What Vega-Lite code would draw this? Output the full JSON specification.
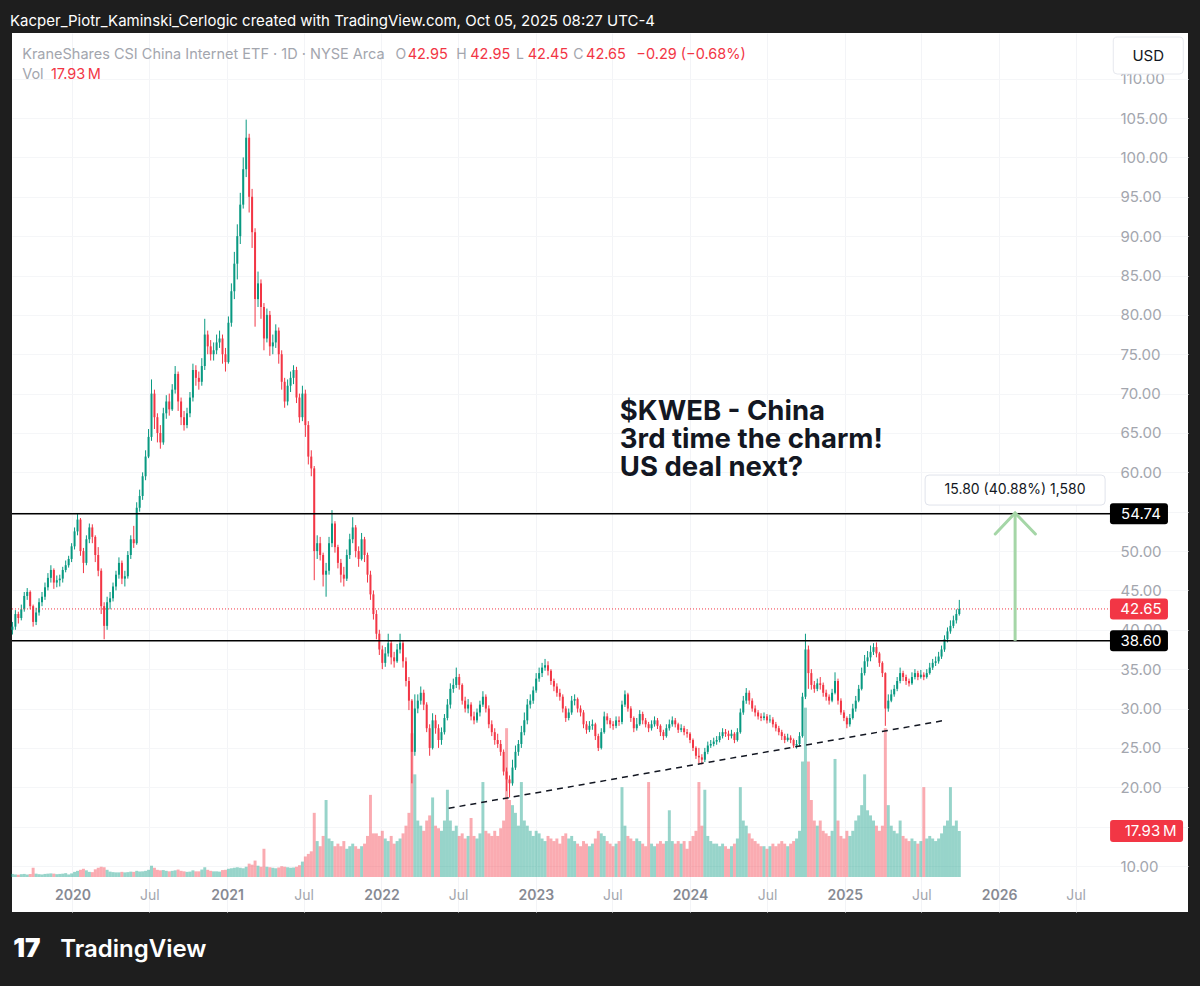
{
"$schema": "https://vega.github.io/schema/vega-lite/v6.json",
"width": 1176,
"height": 879,
"autosize": {"type": "none"},
"padding": {"left": 12, "top": 33, "right": 12, "bottom": 74},
"background": "#1e1e1e",
"title": {"text": "Kacper_Piotr_Kaminski_Cerlogic created with TradingView.com, Oct 05, 2025 08:27 UTC-4", "anchor": "start", "frame": "group", "color": "#ffffff", "fontSize": 15, "fontWeight": 400, "font": "Inter", "offset": 8, "dx": -2, "dy": 16, "baseline": "alphabetic"},
"config": {
  "font": "Inter",
  "view": {"fill": "#ffffff", "stroke": null},
  "axis": {"domain": false, "ticks": false, "tickSize": 0, "labelFont": "Inter"}
},
"datasets": {
"kweb": [
{"d":"2019-08-12","o":40.0,"h":41.0,"l":39.4,"c":40.4,"v":1.2},
{"d":"2019-08-19","o":40.4,"h":42.5,"l":40.0,"c":42.0,"v":1.0},
{"d":"2019-08-26","o":42.0,"h":42.3,"l":40.8,"c":41.5,"v":0.9},
{"d":"2019-09-02","o":41.5,"h":43.2,"l":41.2,"c":42.6,"v":1.1},
{"d":"2019-09-09","o":42.6,"h":44.8,"l":42.3,"c":44.3,"v":1.2},
{"d":"2019-09-16","o":44.3,"h":45.3,"l":43.8,"c":44.8,"v":1.0},
{"d":"2019-09-23","o":44.8,"h":45.0,"l":42.6,"c":43.0,"v":1.2},
{"d":"2019-09-30","o":43.0,"h":43.2,"l":40.4,"c":41.0,"v":3.6},
{"d":"2019-10-07","o":41.0,"h":42.8,"l":40.6,"c":42.2,"v":1.3},
{"d":"2019-10-14","o":42.2,"h":44.0,"l":41.8,"c":43.5,"v":1.1},
{"d":"2019-10-21","o":43.5,"h":44.8,"l":43.0,"c":44.2,"v":1.0},
{"d":"2019-10-28","o":44.2,"h":46.0,"l":43.8,"c":45.4,"v":1.2},
{"d":"2019-11-04","o":45.4,"h":47.2,"l":45.0,"c":46.6,"v":1.3},
{"d":"2019-11-11","o":46.6,"h":48.2,"l":46.0,"c":47.6,"v":1.4},
{"d":"2019-11-18","o":47.6,"h":47.8,"l":45.2,"c":46.0,"v":1.3},
{"d":"2019-11-25","o":46.0,"h":46.9,"l":45.4,"c":46.3,"v":1.1},
{"d":"2019-12-02","o":46.3,"h":47.0,"l":45.5,"c":46.5,"v":1.2},
{"d":"2019-12-09","o":46.5,"h":48.0,"l":46.0,"c":47.6,"v":1.3},
{"d":"2019-12-16","o":47.6,"h":48.8,"l":47.3,"c":48.2,"v":1.5},
{"d":"2019-12-23","o":48.2,"h":49.4,"l":47.9,"c":49.0,"v":1.0},
{"d":"2019-12-30","o":49.0,"h":51.0,"l":48.6,"c":50.6,"v":1.4},
{"d":"2020-01-06","o":50.6,"h":53.0,"l":50.2,"c":52.5,"v":2.0},
{"d":"2020-01-13","o":52.5,"h":54.7,"l":52.0,"c":54.0,"v":2.4},
{"d":"2020-01-20","o":54.0,"h":54.2,"l":49.4,"c":50.0,"v":2.8},
{"d":"2020-01-27","o":50.0,"h":50.4,"l":47.2,"c":48.5,"v":3.2},
{"d":"2020-02-03","o":48.5,"h":52.0,"l":48.2,"c":51.5,"v":2.6},
{"d":"2020-02-10","o":51.5,"h":53.5,"l":51.0,"c":53.0,"v":2.0},
{"d":"2020-02-17","o":53.0,"h":53.4,"l":51.0,"c":51.8,"v":1.9},
{"d":"2020-02-24","o":51.8,"h":52.0,"l":48.6,"c":49.5,"v":3.0},
{"d":"2020-03-02","o":49.5,"h":50.5,"l":46.8,"c":47.5,"v":3.6},
{"d":"2020-03-09","o":47.5,"h":47.8,"l":42.0,"c":43.0,"v":4.0},
{"d":"2020-03-16","o":43.0,"h":43.5,"l":38.8,"c":40.5,"v":3.8},
{"d":"2020-03-23","o":40.5,"h":44.2,"l":40.0,"c":43.5,"v":2.8},
{"d":"2020-03-30","o":43.5,"h":44.8,"l":42.6,"c":44.0,"v":2.1},
{"d":"2020-04-06","o":44.0,"h":46.0,"l":43.6,"c":45.5,"v":1.9},
{"d":"2020-04-13","o":45.5,"h":47.5,"l":45.0,"c":47.0,"v":1.8},
{"d":"2020-04-20","o":47.0,"h":49.2,"l":46.5,"c":48.5,"v":1.8},
{"d":"2020-04-27","o":48.5,"h":48.8,"l":45.8,"c":46.5,"v":2.0},
{"d":"2020-05-04","o":46.5,"h":47.5,"l":45.5,"c":46.8,"v":1.8},
{"d":"2020-05-11","o":46.8,"h":50.0,"l":46.5,"c":49.5,"v":1.9},
{"d":"2020-05-18","o":49.5,"h":52.0,"l":49.0,"c":51.5,"v":2.1},
{"d":"2020-05-25","o":51.5,"h":53.2,"l":50.4,"c":51.0,"v":2.0},
{"d":"2020-06-01","o":51.0,"h":56.2,"l":50.8,"c":55.5,"v":2.4},
{"d":"2020-06-08","o":55.5,"h":57.8,"l":55.0,"c":57.0,"v":2.1},
{"d":"2020-06-15","o":57.0,"h":60.0,"l":56.5,"c":59.5,"v":2.2},
{"d":"2020-06-22","o":59.5,"h":62.8,"l":59.0,"c":62.0,"v":2.4},
{"d":"2020-06-29","o":62.0,"h":65.5,"l":61.8,"c":64.5,"v":2.8},
{"d":"2020-07-06","o":64.5,"h":71.8,"l":64.0,"c":70.0,"v":4.4},
{"d":"2020-07-13","o":70.0,"h":70.5,"l":65.5,"c":67.0,"v":3.6},
{"d":"2020-07-20","o":67.0,"h":67.5,"l":63.8,"c":65.0,"v":2.8},
{"d":"2020-07-27","o":65.0,"h":66.0,"l":63.0,"c":63.8,"v":2.6},
{"d":"2020-08-03","o":63.8,"h":68.2,"l":63.5,"c":67.5,"v":2.7},
{"d":"2020-08-10","o":67.5,"h":69.8,"l":66.8,"c":69.0,"v":2.4},
{"d":"2020-08-17","o":69.0,"h":70.0,"l":67.2,"c":68.0,"v":2.2},
{"d":"2020-08-24","o":68.0,"h":71.2,"l":67.8,"c":70.5,"v":2.4},
{"d":"2020-08-31","o":70.5,"h":73.5,"l":70.0,"c":72.5,"v":2.6},
{"d":"2020-09-07","o":72.5,"h":72.8,"l":67.8,"c":69.0,"v":2.9},
{"d":"2020-09-14","o":69.0,"h":69.5,"l":66.0,"c":67.0,"v":2.4},
{"d":"2020-09-21","o":67.0,"h":67.8,"l":65.3,"c":66.0,"v":2.2},
{"d":"2020-09-28","o":66.0,"h":68.2,"l":65.6,"c":67.5,"v":2.0},
{"d":"2020-10-05","o":67.5,"h":70.2,"l":67.0,"c":69.5,"v":2.1},
{"d":"2020-10-12","o":69.5,"h":73.8,"l":69.0,"c":73.0,"v":2.6},
{"d":"2020-10-19","o":73.0,"h":73.6,"l":71.0,"c":72.0,"v":2.2},
{"d":"2020-10-26","o":72.0,"h":72.8,"l":70.5,"c":71.5,"v":2.2},
{"d":"2020-11-02","o":71.5,"h":74.5,"l":71.0,"c":73.5,"v":2.9},
{"d":"2020-11-09","o":73.5,"h":79.5,"l":73.0,"c":77.5,"v":3.8},
{"d":"2020-11-16","o":77.5,"h":78.0,"l":75.0,"c":76.0,"v":2.8},
{"d":"2020-11-23","o":76.0,"h":76.8,"l":74.2,"c":75.0,"v":2.4},
{"d":"2020-11-30","o":75.0,"h":76.5,"l":74.2,"c":75.5,"v":2.2},
{"d":"2020-12-07","o":75.5,"h":77.5,"l":75.0,"c":76.5,"v":2.2},
{"d":"2020-12-14","o":76.5,"h":78.0,"l":75.8,"c":77.0,"v":2.1},
{"d":"2020-12-21","o":77.0,"h":77.5,"l":73.8,"c":75.0,"v":2.7},
{"d":"2020-12-28","o":75.0,"h":75.8,"l":72.8,"c":74.0,"v":2.8},
{"d":"2021-01-04","o":74.0,"h":79.8,"l":73.8,"c":79.0,"v":3.2},
{"d":"2021-01-11","o":79.0,"h":84.0,"l":78.5,"c":83.0,"v":3.4},
{"d":"2021-01-18","o":83.0,"h":88.0,"l":82.0,"c":86.5,"v":3.6},
{"d":"2021-01-25","o":86.5,"h":91.5,"l":84.5,"c":90.0,"v":3.8},
{"d":"2021-02-01","o":90.0,"h":95.5,"l":89.0,"c":94.0,"v":3.6},
{"d":"2021-02-08","o":94.0,"h":100.0,"l":93.5,"c":98.5,"v":3.4},
{"d":"2021-02-15","o":98.5,"h":104.8,"l":97.5,"c":102.5,"v":4.0},
{"d":"2021-02-22","o":102.5,"h":103.0,"l":93.0,"c":95.0,"v":5.2},
{"d":"2021-03-01","o":95.0,"h":96.0,"l":88.5,"c":90.5,"v":4.8},
{"d":"2021-03-08","o":90.5,"h":91.0,"l":78.5,"c":82.0,"v":6.4},
{"d":"2021-03-15","o":82.0,"h":85.5,"l":81.0,"c":84.0,"v":4.4},
{"d":"2021-03-22","o":84.0,"h":84.5,"l":79.5,"c":81.0,"v":4.0},
{"d":"2021-03-29","o":81.0,"h":81.5,"l":75.5,"c":77.0,"v":11.0},
{"d":"2021-04-05","o":77.0,"h":80.8,"l":76.5,"c":80.0,"v":4.0},
{"d":"2021-04-12","o":80.0,"h":80.5,"l":74.8,"c":76.0,"v":3.8},
{"d":"2021-04-19","o":76.0,"h":77.5,"l":75.0,"c":76.5,"v":3.6},
{"d":"2021-04-26","o":76.5,"h":78.8,"l":75.8,"c":78.0,"v":3.4},
{"d":"2021-05-03","o":78.0,"h":78.4,"l":73.8,"c":75.0,"v":3.7},
{"d":"2021-05-10","o":75.0,"h":75.5,"l":70.5,"c":71.5,"v":4.2},
{"d":"2021-05-17","o":71.5,"h":72.0,"l":68.2,"c":69.0,"v":4.0},
{"d":"2021-05-24","o":69.0,"h":71.8,"l":68.5,"c":71.0,"v":3.8},
{"d":"2021-05-31","o":71.0,"h":72.8,"l":70.2,"c":72.0,"v":3.6},
{"d":"2021-06-07","o":72.0,"h":73.6,"l":71.2,"c":73.0,"v":3.7},
{"d":"2021-06-14","o":73.0,"h":73.4,"l":68.8,"c":69.5,"v":4.0},
{"d":"2021-06-21","o":69.5,"h":70.0,"l":66.3,"c":67.0,"v":4.6},
{"d":"2021-06-28","o":67.0,"h":71.0,"l":66.5,"c":70.0,"v":6.0},
{"d":"2021-07-05","o":70.0,"h":70.5,"l":64.5,"c":66.0,"v":8.0},
{"d":"2021-07-12","o":66.0,"h":66.5,"l":61.0,"c":62.0,"v":9.0},
{"d":"2021-07-19","o":62.0,"h":62.8,"l":59.5,"c":60.5,"v":10.0},
{"d":"2021-07-26","o":60.5,"h":60.8,"l":46.3,"c":50.0,"v":25.0},
{"d":"2021-08-02","o":50.0,"h":52.0,"l":49.0,"c":51.0,"v":14.0},
{"d":"2021-08-09","o":51.0,"h":51.8,"l":48.8,"c":49.5,"v":12.0},
{"d":"2021-08-16","o":49.5,"h":49.8,"l":45.5,"c":47.0,"v":16.0},
{"d":"2021-08-23","o":47.0,"h":48.5,"l":44.2,"c":47.5,"v":30.0},
{"d":"2021-08-30","o":47.5,"h":51.8,"l":47.0,"c":51.0,"v":15.0},
{"d":"2021-09-06","o":51.0,"h":55.2,"l":50.5,"c":53.5,"v":14.0},
{"d":"2021-09-13","o":53.5,"h":53.8,"l":49.8,"c":50.5,"v":12.0},
{"d":"2021-09-20","o":50.5,"h":50.8,"l":47.8,"c":48.5,"v":13.0},
{"d":"2021-09-27","o":48.5,"h":49.0,"l":46.0,"c":47.0,"v":12.0},
{"d":"2021-10-04","o":47.0,"h":48.0,"l":45.5,"c":46.5,"v":14.0},
{"d":"2021-10-11","o":46.5,"h":50.2,"l":46.2,"c":49.5,"v":11.0},
{"d":"2021-10-18","o":49.5,"h":52.2,"l":49.0,"c":51.5,"v":12.0},
{"d":"2021-10-25","o":51.5,"h":54.3,"l":51.0,"c":53.0,"v":13.0},
{"d":"2021-11-01","o":53.0,"h":53.3,"l":49.2,"c":50.0,"v":12.0},
{"d":"2021-11-08","o":50.0,"h":50.6,"l":48.0,"c":49.0,"v":11.0},
{"d":"2021-11-15","o":49.0,"h":52.3,"l":48.8,"c":51.5,"v":12.0},
{"d":"2021-11-22","o":51.5,"h":51.8,"l":48.6,"c":49.5,"v":13.0},
{"d":"2021-11-29","o":49.5,"h":49.8,"l":46.0,"c":47.0,"v":16.0},
{"d":"2021-12-06","o":47.0,"h":47.5,"l":43.8,"c":44.5,"v":32.0},
{"d":"2021-12-13","o":44.5,"h":45.0,"l":41.3,"c":42.0,"v":17.0},
{"d":"2021-12-20","o":42.0,"h":42.5,"l":38.8,"c":39.5,"v":17.0},
{"d":"2021-12-27","o":39.5,"h":40.0,"l":36.8,"c":37.5,"v":16.0},
{"d":"2022-01-03","o":37.5,"h":38.0,"l":35.0,"c":35.8,"v":18.0},
{"d":"2022-01-10","o":35.8,"h":37.8,"l":35.3,"c":37.0,"v":15.0},
{"d":"2022-01-17","o":37.0,"h":39.5,"l":36.6,"c":38.3,"v":14.0},
{"d":"2022-01-24","o":38.3,"h":38.6,"l":35.6,"c":36.5,"v":16.0},
{"d":"2022-01-31","o":36.5,"h":37.2,"l":35.2,"c":36.0,"v":13.0},
{"d":"2022-02-07","o":36.0,"h":38.2,"l":35.8,"c":37.5,"v":14.0},
{"d":"2022-02-14","o":37.5,"h":39.5,"l":37.0,"c":38.3,"v":15.0},
{"d":"2022-02-21","o":38.3,"h":38.6,"l":35.2,"c":36.0,"v":17.0},
{"d":"2022-02-28","o":36.0,"h":36.5,"l":32.8,"c":33.5,"v":20.0},
{"d":"2022-03-07","o":33.5,"h":34.0,"l":29.8,"c":31.0,"v":25.0},
{"d":"2022-03-14","o":31.0,"h":31.2,"l":20.5,"c":24.5,"v":56.0},
{"d":"2022-03-21","o":24.5,"h":31.8,"l":24.0,"c":30.0,"v":40.0},
{"d":"2022-03-28","o":30.0,"h":31.8,"l":29.4,"c":31.0,"v":22.0},
{"d":"2022-04-04","o":31.0,"h":32.8,"l":30.5,"c":32.0,"v":20.0},
{"d":"2022-04-11","o":32.0,"h":32.4,"l":29.8,"c":30.5,"v":18.0},
{"d":"2022-04-18","o":30.5,"h":30.8,"l":27.0,"c":27.5,"v":22.0},
{"d":"2022-04-25","o":27.5,"h":28.0,"l":24.0,"c":25.0,"v":24.0},
{"d":"2022-05-02","o":25.0,"h":29.4,"l":24.8,"c":28.5,"v":31.0},
{"d":"2022-05-09","o":28.5,"h":29.2,"l":26.8,"c":27.5,"v":20.0},
{"d":"2022-05-16","o":27.5,"h":28.0,"l":25.0,"c":26.0,"v":19.0},
{"d":"2022-05-23","o":26.0,"h":27.6,"l":25.4,"c":27.0,"v":18.0},
{"d":"2022-05-30","o":27.0,"h":29.3,"l":26.7,"c":28.8,"v":22.0},
{"d":"2022-06-06","o":28.8,"h":31.2,"l":28.5,"c":30.5,"v":34.0},
{"d":"2022-06-13","o":30.5,"h":33.2,"l":30.0,"c":32.5,"v":22.0},
{"d":"2022-06-20","o":32.5,"h":33.8,"l":32.0,"c":33.0,"v":18.0},
{"d":"2022-06-27","o":33.0,"h":35.2,"l":32.6,"c":34.0,"v":20.0},
{"d":"2022-07-04","o":34.0,"h":34.4,"l":32.4,"c":33.0,"v":16.0},
{"d":"2022-07-11","o":33.0,"h":33.2,"l":30.5,"c":31.0,"v":17.0},
{"d":"2022-07-18","o":31.0,"h":31.5,"l":29.5,"c":30.0,"v":15.0},
{"d":"2022-07-25","o":30.0,"h":31.2,"l":29.4,"c":30.5,"v":16.0},
{"d":"2022-08-01","o":30.5,"h":30.8,"l":28.5,"c":29.0,"v":23.0},
{"d":"2022-08-08","o":29.0,"h":29.6,"l":28.0,"c":28.5,"v":16.0},
{"d":"2022-08-15","o":28.5,"h":30.0,"l":28.2,"c":29.5,"v":15.0},
{"d":"2022-08-22","o":29.5,"h":31.0,"l":29.0,"c":30.5,"v":17.0},
{"d":"2022-08-29","o":30.5,"h":32.2,"l":30.2,"c":31.5,"v":37.0},
{"d":"2022-09-05","o":31.5,"h":31.8,"l":29.5,"c":30.0,"v":18.0},
{"d":"2022-09-12","o":30.0,"h":30.4,"l":27.5,"c":28.0,"v":17.0},
{"d":"2022-09-19","o":28.0,"h":28.5,"l":26.5,"c":27.0,"v":16.0},
{"d":"2022-09-26","o":27.0,"h":27.5,"l":25.4,"c":26.0,"v":18.0},
{"d":"2022-10-03","o":26.0,"h":26.8,"l":25.0,"c":25.5,"v":16.0},
{"d":"2022-10-10","o":25.5,"h":26.0,"l":24.0,"c":24.5,"v":19.0},
{"d":"2022-10-17","o":24.5,"h":24.8,"l":21.5,"c":22.0,"v":22.0},
{"d":"2022-10-24","o":22.0,"h":22.5,"l":19.5,"c":21.0,"v":58.0},
{"d":"2022-10-31","o":21.0,"h":21.5,"l":18.7,"c":20.5,"v":30.0},
{"d":"2022-11-07","o":20.5,"h":23.5,"l":20.2,"c":22.5,"v":28.0},
{"d":"2022-11-14","o":22.5,"h":25.3,"l":22.2,"c":24.5,"v":25.0},
{"d":"2022-11-21","o":24.5,"h":26.0,"l":24.0,"c":25.5,"v":20.0},
{"d":"2022-11-28","o":25.5,"h":27.8,"l":25.0,"c":27.0,"v":37.0},
{"d":"2022-12-05","o":27.0,"h":29.5,"l":26.6,"c":28.5,"v":22.0},
{"d":"2022-12-12","o":28.5,"h":31.2,"l":28.0,"c":30.5,"v":20.0},
{"d":"2022-12-19","o":30.5,"h":31.8,"l":30.0,"c":31.0,"v":18.0},
{"d":"2022-12-26","o":31.0,"h":32.8,"l":30.6,"c":32.3,"v":16.0},
{"d":"2023-01-02","o":32.3,"h":34.5,"l":32.0,"c":33.8,"v":18.0},
{"d":"2023-01-09","o":33.8,"h":35.2,"l":33.4,"c":34.5,"v":17.0},
{"d":"2023-01-16","o":34.5,"h":35.8,"l":34.0,"c":35.2,"v":15.0},
{"d":"2023-01-23","o":35.2,"h":36.3,"l":34.8,"c":35.5,"v":14.0},
{"d":"2023-01-30","o":35.5,"h":36.0,"l":34.2,"c":34.8,"v":16.0},
{"d":"2023-02-06","o":34.8,"h":35.0,"l":33.0,"c":33.5,"v":15.0},
{"d":"2023-02-13","o":33.5,"h":33.8,"l":32.2,"c":32.8,"v":14.0},
{"d":"2023-02-20","o":32.8,"h":33.2,"l":31.5,"c":32.0,"v":15.0},
{"d":"2023-02-27","o":32.0,"h":32.5,"l":31.0,"c":31.5,"v":13.0},
{"d":"2023-03-06","o":31.5,"h":31.8,"l":29.5,"c":30.0,"v":16.0},
{"d":"2023-03-13","o":30.0,"h":30.3,"l":28.3,"c":28.8,"v":17.0},
{"d":"2023-03-20","o":28.8,"h":30.0,"l":28.5,"c":29.5,"v":15.0},
{"d":"2023-03-27","o":29.5,"h":31.6,"l":29.2,"c":31.0,"v":16.0},
{"d":"2023-04-03","o":31.0,"h":31.8,"l":30.4,"c":31.2,"v":14.0},
{"d":"2023-04-10","o":31.2,"h":31.4,"l":29.5,"c":30.0,"v":13.0},
{"d":"2023-04-17","o":30.0,"h":30.4,"l":29.0,"c":29.5,"v":12.0},
{"d":"2023-04-24","o":29.5,"h":29.8,"l":27.5,"c":28.0,"v":14.0},
{"d":"2023-05-01","o":28.0,"h":28.4,"l":26.8,"c":27.3,"v":13.0},
{"d":"2023-05-08","o":27.3,"h":28.4,"l":27.0,"c":27.8,"v":12.0},
{"d":"2023-05-15","o":27.8,"h":28.6,"l":27.3,"c":28.0,"v":13.0},
{"d":"2023-05-22","o":28.0,"h":28.2,"l":26.0,"c":26.5,"v":15.0},
{"d":"2023-05-29","o":26.5,"h":26.8,"l":24.6,"c":25.0,"v":18.0},
{"d":"2023-06-05","o":25.0,"h":27.5,"l":24.8,"c":27.0,"v":17.0},
{"d":"2023-06-12","o":27.0,"h":29.6,"l":26.8,"c":29.0,"v":16.0},
{"d":"2023-06-19","o":29.0,"h":29.4,"l":28.0,"c":28.5,"v":14.0},
{"d":"2023-06-26","o":28.5,"h":28.8,"l":27.5,"c":28.0,"v":13.0},
{"d":"2023-07-03","o":28.0,"h":28.4,"l":27.3,"c":27.8,"v":12.0},
{"d":"2023-07-10","o":27.8,"h":29.0,"l":27.5,"c":28.5,"v":13.0},
{"d":"2023-07-17","o":28.5,"h":29.0,"l":27.8,"c":28.3,"v":14.0},
{"d":"2023-07-24","o":28.3,"h":31.0,"l":28.0,"c":30.5,"v":35.0},
{"d":"2023-07-31","o":30.5,"h":32.3,"l":30.2,"c":31.8,"v":20.0},
{"d":"2023-08-07","o":31.8,"h":32.0,"l":29.6,"c":30.0,"v":16.0},
{"d":"2023-08-14","o":30.0,"h":30.3,"l":28.3,"c":28.8,"v":15.0},
{"d":"2023-08-21","o":28.8,"h":29.0,"l":27.0,"c":27.5,"v":14.0},
{"d":"2023-08-28","o":27.5,"h":28.8,"l":27.2,"c":28.0,"v":15.0},
{"d":"2023-09-04","o":28.0,"h":29.8,"l":27.8,"c":29.3,"v":14.0},
{"d":"2023-09-11","o":29.3,"h":29.6,"l":28.0,"c":28.5,"v":13.0},
{"d":"2023-09-18","o":28.5,"h":28.8,"l":27.6,"c":28.0,"v":12.0},
{"d":"2023-09-25","o":28.0,"h":28.3,"l":27.0,"c":27.5,"v":37.0},
{"d":"2023-10-02","o":27.5,"h":28.5,"l":27.2,"c":28.0,"v":13.0},
{"d":"2023-10-09","o":28.0,"h":29.0,"l":27.7,"c":28.5,"v":12.0},
{"d":"2023-10-16","o":28.5,"h":28.8,"l":27.4,"c":27.8,"v":13.0},
{"d":"2023-10-23","o":27.8,"h":28.0,"l":26.5,"c":27.0,"v":14.0},
{"d":"2023-10-30","o":27.0,"h":27.3,"l":26.0,"c":26.5,"v":13.0},
{"d":"2023-11-06","o":26.5,"h":28.0,"l":26.3,"c":27.5,"v":14.0},
{"d":"2023-11-13","o":27.5,"h":28.6,"l":27.2,"c":28.0,"v":26.0},
{"d":"2023-11-20","o":28.0,"h":29.0,"l":27.7,"c":28.5,"v":14.0},
{"d":"2023-11-27","o":28.5,"h":28.8,"l":27.6,"c":28.0,"v":13.0},
{"d":"2023-12-04","o":28.0,"h":28.2,"l":26.9,"c":27.3,"v":14.0},
{"d":"2023-12-11","o":27.3,"h":28.0,"l":27.0,"c":27.5,"v":13.0},
{"d":"2023-12-18","o":27.5,"h":27.8,"l":26.6,"c":27.0,"v":14.0},
{"d":"2023-12-25","o":27.0,"h":27.4,"l":26.3,"c":26.8,"v":11.0},
{"d":"2024-01-01","o":26.8,"h":27.0,"l":25.6,"c":26.0,"v":14.0},
{"d":"2024-01-08","o":26.0,"h":26.2,"l":24.6,"c":25.0,"v":16.0},
{"d":"2024-01-15","o":25.0,"h":25.2,"l":23.6,"c":24.0,"v":18.0},
{"d":"2024-01-22","o":24.0,"h":25.0,"l":23.0,"c":23.8,"v":37.0},
{"d":"2024-01-29","o":23.8,"h":24.2,"l":22.9,"c":23.5,"v":20.0},
{"d":"2024-02-05","o":23.5,"h":25.0,"l":23.2,"c":24.5,"v":34.0},
{"d":"2024-02-12","o":24.5,"h":25.8,"l":24.2,"c":25.3,"v":16.0},
{"d":"2024-02-19","o":25.3,"h":26.0,"l":25.0,"c":25.5,"v":14.0},
{"d":"2024-02-26","o":25.5,"h":26.3,"l":25.2,"c":25.8,"v":13.0},
{"d":"2024-03-04","o":25.8,"h":26.5,"l":25.4,"c":26.0,"v":13.0},
{"d":"2024-03-11","o":26.0,"h":27.0,"l":25.7,"c":26.5,"v":12.0},
{"d":"2024-03-18","o":26.5,"h":27.5,"l":26.2,"c":27.0,"v":13.0},
{"d":"2024-03-25","o":27.0,"h":27.4,"l":26.4,"c":26.8,"v":12.0},
{"d":"2024-04-01","o":26.8,"h":27.2,"l":26.0,"c":26.5,"v":11.0},
{"d":"2024-04-08","o":26.5,"h":27.3,"l":26.2,"c":26.8,"v":12.0},
{"d":"2024-04-15","o":26.8,"h":27.0,"l":25.6,"c":26.0,"v":13.0},
{"d":"2024-04-22","o":26.0,"h":27.5,"l":25.8,"c":27.0,"v":15.0},
{"d":"2024-04-29","o":27.0,"h":30.0,"l":26.8,"c":29.5,"v":35.0},
{"d":"2024-05-06","o":29.5,"h":31.6,"l":29.2,"c":31.0,"v":22.0},
{"d":"2024-05-13","o":31.0,"h":32.6,"l":30.6,"c":32.0,"v":20.0},
{"d":"2024-05-20","o":32.0,"h":32.3,"l":30.5,"c":31.0,"v":17.0},
{"d":"2024-05-27","o":31.0,"h":31.3,"l":29.6,"c":30.0,"v":15.0},
{"d":"2024-06-03","o":30.0,"h":30.4,"l":29.0,"c":29.5,"v":14.0},
{"d":"2024-06-10","o":29.5,"h":29.8,"l":28.6,"c":29.0,"v":13.0},
{"d":"2024-06-17","o":29.0,"h":29.4,"l":28.4,"c":28.8,"v":12.0},
{"d":"2024-06-24","o":28.8,"h":29.5,"l":28.5,"c":29.0,"v":12.0},
{"d":"2024-07-01","o":29.0,"h":29.3,"l":28.1,"c":28.5,"v":11.0},
{"d":"2024-07-08","o":28.5,"h":29.2,"l":28.2,"c":28.6,"v":12.0},
{"d":"2024-07-15","o":28.6,"h":28.9,"l":27.6,"c":28.0,"v":13.0},
{"d":"2024-07-22","o":28.0,"h":28.3,"l":27.1,"c":27.5,"v":12.0},
{"d":"2024-07-29","o":27.5,"h":27.8,"l":26.6,"c":27.0,"v":13.0},
{"d":"2024-08-05","o":27.0,"h":27.3,"l":26.0,"c":26.5,"v":14.0},
{"d":"2024-08-12","o":26.5,"h":26.8,"l":25.6,"c":26.0,"v":13.0},
{"d":"2024-08-19","o":26.0,"h":26.8,"l":25.8,"c":26.3,"v":12.0},
{"d":"2024-08-26","o":26.3,"h":26.6,"l":25.6,"c":26.0,"v":13.0},
{"d":"2024-09-02","o":26.0,"h":26.2,"l":25.0,"c":25.3,"v":14.0},
{"d":"2024-09-09","o":25.3,"h":26.0,"l":24.9,"c":25.5,"v":15.0},
{"d":"2024-09-16","o":25.5,"h":27.0,"l":25.2,"c":26.5,"v":18.0},
{"d":"2024-09-23","o":26.5,"h":32.0,"l":26.3,"c":31.5,"v":45.0},
{"d":"2024-09-30","o":31.5,"h":39.5,"l":31.2,"c":37.5,"v":66.0},
{"d":"2024-10-07","o":37.5,"h":38.0,"l":32.5,"c":34.5,"v":45.0},
{"d":"2024-10-14","o":34.5,"h":35.0,"l":32.4,"c":33.0,"v":30.0},
{"d":"2024-10-21","o":33.0,"h":33.5,"l":32.0,"c":32.5,"v":22.0},
{"d":"2024-10-28","o":32.5,"h":33.8,"l":32.2,"c":33.2,"v":20.0},
{"d":"2024-11-04","o":33.2,"h":34.0,"l":32.4,"c":33.0,"v":22.0},
{"d":"2024-11-11","o":33.0,"h":33.3,"l":31.5,"c":32.0,"v":18.0},
{"d":"2024-11-18","o":32.0,"h":32.4,"l":31.0,"c":31.5,"v":17.0},
{"d":"2024-11-25","o":31.5,"h":31.8,"l":30.5,"c":31.0,"v":16.0},
{"d":"2024-12-02","o":31.0,"h":32.5,"l":30.8,"c":32.0,"v":18.0},
{"d":"2024-12-09","o":32.0,"h":34.6,"l":31.8,"c":33.5,"v":46.0},
{"d":"2024-12-16","o":33.5,"h":33.8,"l":30.5,"c":31.0,"v":22.0},
{"d":"2024-12-23","o":31.0,"h":31.3,"l":29.2,"c":29.5,"v":16.0},
{"d":"2024-12-30","o":29.5,"h":29.8,"l":28.4,"c":28.8,"v":15.0},
{"d":"2025-01-06","o":28.8,"h":29.0,"l":27.5,"c":28.0,"v":18.0},
{"d":"2025-01-13","o":28.0,"h":29.3,"l":27.7,"c":28.8,"v":16.0},
{"d":"2025-01-20","o":28.8,"h":30.6,"l":28.6,"c":30.0,"v":18.0},
{"d":"2025-01-27","o":30.0,"h":31.6,"l":29.6,"c":31.0,"v":22.0},
{"d":"2025-02-03","o":31.0,"h":33.0,"l":30.8,"c":32.5,"v":24.0},
{"d":"2025-02-10","o":32.5,"h":35.2,"l":32.3,"c":34.5,"v":28.0},
{"d":"2025-02-17","o":34.5,"h":36.8,"l":34.2,"c":36.0,"v":40.0},
{"d":"2025-02-24","o":36.0,"h":37.3,"l":35.3,"c":36.5,"v":26.0},
{"d":"2025-03-03","o":36.5,"h":38.0,"l":36.0,"c":37.2,"v":24.0},
{"d":"2025-03-10","o":37.2,"h":38.3,"l":36.8,"c":37.8,"v":22.0},
{"d":"2025-03-17","o":37.8,"h":38.4,"l":36.5,"c":37.0,"v":20.0},
{"d":"2025-03-24","o":37.0,"h":37.2,"l":35.3,"c":35.8,"v":18.0},
{"d":"2025-03-31","o":35.8,"h":36.0,"l":34.0,"c":34.5,"v":20.0},
{"d":"2025-04-07","o":34.5,"h":34.6,"l":27.8,"c":30.0,"v":58.0},
{"d":"2025-04-14","o":30.0,"h":31.8,"l":29.6,"c":31.0,"v":28.0},
{"d":"2025-04-21","o":31.0,"h":32.4,"l":30.8,"c":31.8,"v":20.0},
{"d":"2025-04-28","o":31.8,"h":33.0,"l":31.5,"c":32.5,"v":18.0},
{"d":"2025-05-05","o":32.5,"h":34.0,"l":32.2,"c":33.5,"v":17.0},
{"d":"2025-05-12","o":33.5,"h":35.2,"l":33.2,"c":34.5,"v":22.0},
{"d":"2025-05-19","o":34.5,"h":34.8,"l":33.5,"c":34.0,"v":16.0},
{"d":"2025-05-26","o":34.0,"h":34.3,"l":33.0,"c":33.5,"v":15.0},
{"d":"2025-06-02","o":33.5,"h":33.8,"l":32.8,"c":33.2,"v":14.0},
{"d":"2025-06-09","o":33.2,"h":34.6,"l":33.0,"c":34.0,"v":15.0},
{"d":"2025-06-16","o":34.0,"h":35.0,"l":33.7,"c":34.5,"v":14.0},
{"d":"2025-06-23","o":34.5,"h":34.8,"l":33.6,"c":34.0,"v":13.0},
{"d":"2025-06-30","o":34.0,"h":34.9,"l":33.8,"c":34.3,"v":14.0},
{"d":"2025-07-07","o":34.3,"h":34.6,"l":33.6,"c":34.0,"v":35.0},
{"d":"2025-07-14","o":34.0,"h":35.0,"l":33.8,"c":34.5,"v":15.0},
{"d":"2025-07-21","o":34.5,"h":35.8,"l":34.3,"c":35.2,"v":16.0},
{"d":"2025-07-28","o":35.2,"h":36.3,"l":34.9,"c":35.8,"v":15.0},
{"d":"2025-08-04","o":35.8,"h":36.6,"l":35.4,"c":36.0,"v":14.0},
{"d":"2025-08-11","o":36.0,"h":37.2,"l":35.7,"c":36.6,"v":15.0},
{"d":"2025-08-18","o":36.6,"h":38.0,"l":36.3,"c":37.5,"v":17.0},
{"d":"2025-08-25","o":37.5,"h":39.3,"l":37.2,"c":38.8,"v":20.0},
{"d":"2025-09-01","o":38.8,"h":40.3,"l":38.4,"c":39.8,"v":22.0},
{"d":"2025-09-08","o":39.8,"h":41.2,"l":39.5,"c":40.5,"v":35.0},
{"d":"2025-09-15","o":40.5,"h":41.8,"l":40.2,"c":41.2,"v":20.0},
{"d":"2025-09-22","o":41.2,"h":42.6,"l":40.8,"c":42.0,"v":22.0},
{"d":"2025-09-29","o":42.0,"h":43.8,"l":41.8,"c":42.65,"v":17.93}
]
},
"encoding": {
  "x": {"field": "d", "type": "temporal", "title": null,
    "scale": {"type": "utc", "padding": 0, "domain": [{"year": 2019, "month": 8, "date": 11, "utc": true}, {"year": 2027, "month": 3, "date": 24, "utc": true}]},
    "axis": {"orient": "bottom", "offset": -24, "title": null, "grid": true, "gridColor": "#f3f4f7",
      "values": [{"year": 2020, "month": 1, "date": 1, "utc": true}, {"year": 2020, "month": 7, "date": 1, "utc": true}, {"year": 2021, "month": 1, "date": 1, "utc": true}, {"year": 2021, "month": 7, "date": 1, "utc": true}, {"year": 2022, "month": 1, "date": 1, "utc": true}, {"year": 2022, "month": 7, "date": 1, "utc": true}, {"year": 2023, "month": 1, "date": 1, "utc": true}, {"year": 2023, "month": 7, "date": 1, "utc": true}, {"year": 2024, "month": 1, "date": 1, "utc": true}, {"year": 2024, "month": 7, "date": 1, "utc": true}, {"year": 2025, "month": 1, "date": 1, "utc": true}, {"year": 2025, "month": 7, "date": 1, "utc": true}, {"year": 2026, "month": 1, "date": 1, "utc": true}, {"year": 2026, "month": 7, "date": 1, "utc": true}],
      "labelExpr": "utcFormat(datum.value, '%m') == '01' ? utcFormat(datum.value, '%Y') : 'Jul'",
      "labelPadding": 0, "labelFontSize": 14, "labelFlush": false, "labelOverlap": false,
      "labelColor": {"condition": {"test": "utcFormat(datum.value, '%m') == '01'", "value": "#878a93"}, "value": "#a3a6ae"},
      "labelFontWeight": {"condition": {"test": "utcFormat(datum.value, '%m') == '01'", "value": 600}, "value": 400}
    }
  }
},
"resolve": {"scale": {"y": "independent"}, "axis": {"y": "independent"}},
"layer": [
  {
    "data": {"name": "kweb"},
    "mark": {"type": "bar", "width": 2.96, "opacity": 0.42},
    "encoding": {
      "y": {"field": "v", "type": "quantitative", "scale": {"domain": [-13.64, 328.9], "nice": false, "zero": false}, "axis": null},
      "y2": {"datum": 0},
      "color": {"condition": {"test": "datum.c >= datum.o", "value": "#089981"}, "value": "#f23645"}
    }
  },
  {
    "data": {"values": [{"d": "2026-12-16", "v": 17.93, "t": "17.93\u2009M"}]},
    "mark": {"type": "point", "shape": "M-0.918,-0.3014L0.918,-0.3014Q1,-0.3014 1,-0.2192L1,0.2192Q1,0.3014 0.918,0.3014L-0.918,0.3014Q-1,0.3014 -1,0.2192L-1,-0.2192Q-1,-0.3014 -0.918,-0.3014Z", "size": 5329, "filled": true, "opacity": 1, "color": "#f23645", "strokeWidth": 0},
    "encoding": {"y": {"field": "v", "type": "quantitative", "scale": {"domain": [-13.64, 328.9], "nice": false, "zero": false}, "axis": null}}
  },
  {
    "data": {"values": [{"d": "2026-12-16", "v": 17.93, "t": "17.93\u2009M"}]},
    "mark": {"type": "text", "color": "#ffffff", "fontSize": 15, "align": "center", "baseline": "middle", "dx": 4},
    "encoding": {"y": {"field": "v", "type": "quantitative", "scale": {"domain": [-13.64, 328.9], "nice": false, "zero": false}, "axis": null}, "text": {"field": "t"}}
  },
  {
    "data": {"name": "kweb"},
    "mark": {"type": "rule", "strokeWidth": 1},
    "encoding": {
      "y": {"field": "h", "type": "quantitative", "scale": {"domain": [4.158, 115.8], "nice": false, "zero": false},
        "axis": {"orient": "right", "offset": -68, "title": null, "values": [10, 15, 20, 25, 30, 35, 40, 45, 50, 55, 60, 65, 70, 75, 80, 85, 90, 95, 100, 105, 110], "format": ".2f", "labelAlign": "left", "labelBaseline": "middle", "labelPadding": 0, "labelColor": "#a3a6ae", "labelFontSize": 15, "grid": true, "gridColor": "#f5f6f8", "labelOverlap": false, "labelFlush": false}},
      "y2": {"field": "l"},
      "color": {"condition": {"test": "datum.c >= datum.o", "value": "#089981"}, "value": "#f23645"}
    }
  },
  {
    "data": {"name": "kweb"},
    "mark": {"type": "bar", "width": 2},
    "encoding": {
      "y": {"field": "o", "type": "quantitative", "scale": {"domain": [4.158, 115.8], "nice": false, "zero": false}, "axis": null},
      "y2": {"field": "c"},
      "color": {"condition": {"test": "datum.c >= datum.o", "value": "#089981"}, "value": "#f23645"}
    }
  },
  {
    "data": {"values": [{"d": "2019-08-11", "d2": "2026-09-21", "p": 54.74}, {"d": "2019-08-11", "d2": "2026-09-21", "p": 38.60}]},
    "mark": {"type": "rule", "color": "#000000", "strokeWidth": 1.5},
    "encoding": {"x2": {"field": "d2"}, "y": {"field": "p", "type": "quantitative", "scale": {"domain": [4.158, 115.8], "nice": false, "zero": false}, "axis": null}}
  },
  {
    "data": {"values": [{"d": "2019-08-11", "d2": "2026-09-21", "p": 42.65}]},
    "mark": {"type": "rule", "color": "#f23645", "strokeWidth": 1, "strokeDash": [1, 2]},
    "encoding": {"x2": {"field": "d2"}, "y": {"field": "p", "type": "quantitative", "scale": {"domain": [4.158, 115.8], "nice": false, "zero": false}, "axis": null}}
  },
  {
    "data": {"values": [{"d": "2022-06-09", "p": 17.33}, {"d": "2025-08-30", "p": 28.54}]},
    "mark": {"type": "line", "color": "#131722", "strokeWidth": 1.5, "strokeDash": [6, 5]},
    "encoding": {"y": {"field": "p", "type": "quantitative", "scale": {"domain": [4.158, 115.8], "nice": false, "zero": false}, "axis": null}}
  },
  {
    "data": {"values": [{"d": "2026-02-08", "p": 38.60, "p2": 54.80}]},
    "mark": {"type": "rule", "color": "#a5d6a7", "strokeWidth": 3},
    "encoding": {"y": {"field": "p", "type": "quantitative", "scale": {"domain": [4.158, 115.8], "nice": false, "zero": false}, "axis": null}, "y2": {"field": "p2"}}
  },
  {
    "data": {"values": [{"d": "2025-12-23", "p": 52.17}, {"d": "2026-02-08", "p": 54.83}, {"d": "2026-03-28", "p": 52.17}]},
    "mark": {"type": "line", "color": "#a5d6a7", "strokeWidth": 3, "strokeCap": "round"},
    "encoding": {"y": {"field": "p", "type": "quantitative", "scale": {"domain": [4.158, 115.8], "nice": false, "zero": false}, "axis": null}}
  },
  {
    "data": {"values": [{"d": "2026-02-08", "p": 57.75, "t": "15.80 (40.88%) 1,580"}]},
    "mark": {"type": "point", "shape": "M-0.956,-0.1667L0.956,-0.1667Q1,-0.1667 1,-0.1227L1,0.1227Q1,0.1667 0.956,0.1667L-0.956,0.1667Q-1,0.1667 -1,0.1227L-1,-0.1227Q-1,-0.1667 -0.956,-0.1667Z", "size": 32400, "filled": true, "opacity": 1, "fill": "#ffffff", "stroke": "#e0e3eb", "strokeWidth": 1},
    "encoding": {"y": {"field": "p", "type": "quantitative", "scale": {"domain": [4.158, 115.8], "nice": false, "zero": false}, "axis": null}}
  },
  {
    "data": {"values": [{"d": "2026-02-08", "p": 57.75, "t": "15.80 (40.88%) 1,580"}]},
    "mark": {"type": "text", "color": "#131722", "fontSize": 14, "align": "center", "baseline": "middle"},
    "encoding": {"y": {"field": "p", "type": "quantitative", "scale": {"domain": [4.158, 115.8], "nice": false, "zero": false}, "axis": null}, "text": {"field": "t"}}
  },
  {
    "data": {"values": [{"d": "2023-07-19", "p": 67.66, "t": "$KWEB - China\n3rd time the charm!\nUS deal next?"}]},
    "mark": {"type": "text", "color": "#131722", "fontSize": 27.5, "fontWeight": 700, "align": "left", "baseline": "middle", "lineBreak": "\n", "lineHeight": 28},
    "encoding": {"y": {"field": "p", "type": "quantitative", "scale": {"domain": [4.158, 115.8], "nice": false, "zero": false}, "axis": null}, "text": {"field": "t"}}
  },
  {
    "data": {"values": [{"d": "2026-11-28", "p": 54.74, "t": "54.74", "k": "line"}, {"d": "2026-11-28", "p": 42.65, "t": "42.65", "k": "last"}, {"d": "2026-11-28", "p": 38.60, "t": "38.60", "k": "line"}]},
    "mark": {"type": "point", "shape": "M-0.897,-0.362L0.897,-0.362Q1,-0.362 1,-0.259L1,0.259Q1,0.362 0.897,0.362L-0.897,0.362Q-1,0.362 -1,0.259L-1,-0.259Q-1,-0.362 -0.897,-0.362Z", "size": 3364, "filled": true, "opacity": 1, "strokeWidth": 0},
    "encoding": {"y": {"field": "p", "type": "quantitative", "scale": {"domain": [4.158, 115.8], "nice": false, "zero": false}, "axis": null},
      "color": {"condition": {"test": "datum.k == 'last'", "value": "#f23645"}, "value": "#000000"}}
  },
  {
    "data": {"values": [{"d": "2026-11-28", "p": 54.74, "t": "54.74"}, {"d": "2026-11-28", "p": 42.65, "t": "42.65"}, {"d": "2026-11-28", "p": 38.60, "t": "38.60"}]},
    "mark": {"type": "text", "color": "#ffffff", "fontSize": 15, "align": "center", "baseline": "middle", "dx": 2},
    "encoding": {"y": {"field": "p", "type": "quantitative", "scale": {"domain": [4.158, 115.8], "nice": false, "zero": false}, "axis": null}, "text": {"field": "t"}}
  },
  {
    "data": {"values": [{"d": "2026-12-20", "p": 112.94, "t": "USD"}]},
    "mark": {"type": "point", "shape": "M-0.886,-0.5286L0.886,-0.5286Q1,-0.5286 1,-0.4143L1,0.4143Q1,0.5286 0.886,0.5286L-0.886,0.5286Q-1,0.5286 -1,0.4143L-1,-0.4143Q-1,-0.5286 -0.886,-0.5286Z", "size": 4900, "filled": true, "opacity": 1, "fill": "#ffffff", "stroke": "#e6e8ee", "strokeWidth": 1},
    "encoding": {"y": {"field": "p", "type": "quantitative", "scale": {"domain": [4.158, 115.8], "nice": false, "zero": false}, "axis": null}}
  },
  {
    "data": {"values": [{"d": "2026-12-20", "p": 112.94, "t": "USD"}]},
    "mark": {"type": "text", "color": "#131722", "fontSize": 15, "align": "center", "baseline": "middle"},
    "encoding": {"y": {"field": "p", "type": "quantitative", "scale": {"domain": [4.158, 115.8], "nice": false, "zero": false}, "axis": null}, "text": {"field": "t"}}
  },
  {
    "data": {"values": [
      {"d": "2019-09-04", "p": 113.0, "t": "KraneShares CSI China Internet ETF · 1D · NYSE Arca"},
      {"d": "2019-09-04", "p": 110.46, "t": "Vol"}
    ]},
    "mark": {"type": "text", "color": "#a3a6ae", "fontSize": 14.5, "align": "left", "baseline": "middle"},
    "encoding": {"y": {"field": "p", "type": "quantitative", "scale": {"domain": [4.158, 115.8], "nice": false, "zero": false}, "axis": null}, "text": {"field": "t"}}
  },
  {
    "data": {"values": [
      {"d": "2022-02-03", "p": 113.0, "t": "O"},
      {"d": "2022-06-27", "p": 113.0, "t": "H"},
      {"d": "2022-11-15", "p": 113.0, "t": "L"},
      {"d": "2023-03-31", "p": 113.0, "t": "C"}
    ]},
    "mark": {"type": "text", "color": "#a3a6ae", "fontSize": 14, "align": "left", "baseline": "middle"},
    "encoding": {"y": {"field": "p", "type": "quantitative", "scale": {"domain": [4.158, 115.8], "nice": false, "zero": false}, "axis": null}, "text": {"field": "t"}}
  },
  {
    "data": {"values": [
      {"d": "2022-03-04", "p": 113.0, "t": "42.95"},
      {"d": "2022-07-30", "p": 113.0, "t": "42.95"},
      {"d": "2022-12-13", "p": 113.0, "t": "42.45"},
      {"d": "2023-04-30", "p": 113.0, "t": "42.65"},
      {"d": "2023-08-27", "p": 113.0, "t": "\u22120.29 (\u22120.68%)"},
      {"d": "2019-11-11", "p": 110.46, "t": "17.93\u2009M"}
    ]},
    "mark": {"type": "text", "color": "#f23645", "fontSize": 14.5, "align": "left", "baseline": "middle"},
    "encoding": {"y": {"field": "p", "type": "quantitative", "scale": {"domain": [4.158, 115.8], "nice": false, "zero": false}, "axis": null}, "text": {"field": "t"}}
  },
  {
    "data": {"values": [{"d": "2019-08-14", "p": -1.62, "t": "17"}]},
    "mark": {"type": "text", "color": "#ffffff", "fontSize": 26, "fontWeight": 900, "align": "left", "baseline": "alphabetic"},
    "encoding": {"y": {"field": "p", "type": "quantitative", "scale": {"domain": [4.158, 115.8], "nice": false, "zero": false}, "axis": null}, "text": {"field": "t"}}
  },
  {
    "data": {"values": [{"d": "2019-12-03", "p": -1.56, "t": "TradingView"}]},
    "mark": {"type": "text", "color": "#ffffff", "fontSize": 24, "fontWeight": 600, "align": "left", "baseline": "alphabetic"},
    "encoding": {"y": {"field": "p", "type": "quantitative", "scale": {"domain": [4.158, 115.8], "nice": false, "zero": false}, "axis": null}, "text": {"field": "t"}}
  }
]
}
